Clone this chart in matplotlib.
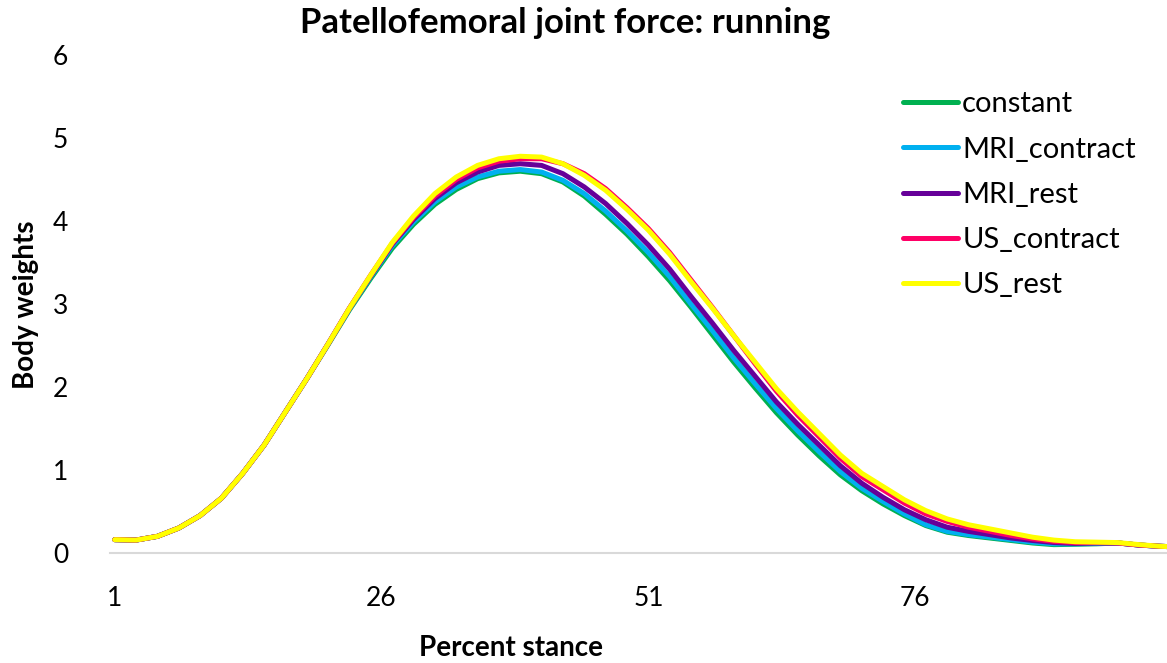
import matplotlib
matplotlib.use("Agg")
import matplotlib.pyplot as plt

plt.rcParams['font.family'] = ['Lato', 'DejaVu Sans']

# percent stance (every second point)
stance = [1, 3, 5, 7, 9, 11, 13, 15, 17, 19, 21, 23, 25, 27, 29, 31, 33, 35, 37, 39,
          41, 43, 45, 47, 49, 51, 53, 55, 57, 59, 61, 63, 65, 67, 69, 71, 73, 75, 77, 79,
          81, 83, 85, 87, 89, 91, 93, 95, 97, 99, 100]

constant = [0.16, 0.155, 0.20, 0.30, 0.45, 0.66, 0.96, 1.30, 1.70, 2.10,
            2.51, 2.93, 3.31, 3.67, 3.96, 4.20, 4.38, 4.51, 4.58, 4.60,
            4.57, 4.47, 4.30, 4.08, 3.84, 3.57, 3.28, 2.96, 2.63, 2.30,
            1.99, 1.69, 1.42, 1.17, 0.94, 0.75, 0.59, 0.45, 0.33, 0.25,
            0.21, 0.18, 0.15, 0.12, 0.10, 0.105, 0.11, 0.12, 0.095, 0.08, 0.075]
mri_contract = [0.16, 0.155, 0.20, 0.30, 0.45, 0.66, 0.96, 1.30, 1.70, 2.10,
                2.52, 2.94, 3.33, 3.70, 3.99, 4.23, 4.41, 4.53, 4.60, 4.62,
                4.59, 4.49, 4.33, 4.12, 3.88, 3.62, 3.33, 3.00, 2.68, 2.35,
                2.04, 1.74, 1.47, 1.22, 0.98, 0.78, 0.62, 0.47, 0.34, 0.26,
                0.22, 0.19, 0.16, 0.13, 0.11, 0.11, 0.115, 0.12, 0.095, 0.08, 0.075]
mri_rest = [0.16, 0.155, 0.20, 0.30, 0.45, 0.66, 0.96, 1.30, 1.70, 2.10,
            2.52, 2.95, 3.34, 3.72, 4.02, 4.27, 4.46, 4.59, 4.67, 4.69,
            4.67, 4.57, 4.41, 4.21, 3.97, 3.71, 3.42, 3.09, 2.77, 2.44,
            2.13, 1.82, 1.55, 1.30, 1.05, 0.84, 0.67, 0.52, 0.40, 0.31,
            0.26, 0.22, 0.18, 0.15, 0.125, 0.115, 0.12, 0.12, 0.095, 0.08, 0.075]
us_contract = [0.16, 0.155, 0.20, 0.30, 0.45, 0.66, 0.96, 1.30, 1.70, 2.10,
               2.52, 2.95, 3.35, 3.73, 4.04, 4.30, 4.50, 4.64, 4.72, 4.75,
               4.75, 4.69, 4.57, 4.39, 4.16, 3.91, 3.62, 3.29, 2.96, 2.62,
               2.28, 1.95, 1.66, 1.40, 1.14, 0.92, 0.76, 0.60, 0.47, 0.38,
               0.31, 0.26, 0.21, 0.17, 0.14, 0.125, 0.125, 0.12, 0.095, 0.08, 0.075]
us_rest = [0.16, 0.155, 0.20, 0.30, 0.45, 0.66, 0.96, 1.30, 1.70, 2.10,
           2.52, 2.95, 3.35, 3.74, 4.06, 4.33, 4.53, 4.67, 4.75, 4.78,
           4.77, 4.69, 4.55, 4.37, 4.14, 3.89, 3.60, 3.27, 2.95, 2.62,
           2.30, 1.98, 1.70, 1.44, 1.18, 0.96, 0.80, 0.64, 0.51, 0.41,
           0.34, 0.29, 0.24, 0.19, 0.155, 0.135, 0.13, 0.125, 0.10, 0.08, 0.075]

names = ['constant', 'MRI_contract', 'MRI_rest', 'US_contract', 'US_rest']
colors = ['#00B050', '#00B0F0', '#660099', '#FF0066', '#FFFF00']
series = [constant, mri_contract, mri_rest, us_contract, us_rest]

fig = plt.figure(figsize=(11.67, 6.63), dpi=100)
ax = fig.add_axes([0.094, 0.166, 0.906, 0.751])

for name, col, vals in zip(names, colors, series):
    ax.plot(stance, vals, color=col, lw=3.6, label=name,
            solid_capstyle='round', solid_joinstyle='round')

ax.set_xlim(0.53, 99.6)
ax.set_ylim(0, 6)
ax.set_xticks([1, 26, 51, 76])
ax.set_yticks(range(7))
ax.tick_params(length=0, labelsize=19)
ax.tick_params(axis='x', pad=24)
ax.tick_params(axis='y', pad=30)

for s in ['top', 'right', 'left']:
    ax.spines[s].set_visible(False)
ax.spines['bottom'].set_color('#D9D9D9')
ax.spines['bottom'].set_linewidth(1.5)

fig.text(0.484, 0.965, 'Patellofemoral joint force: running', ha='center', va='center',
         fontsize=25, fontweight='bold')
fig.text(0.438, 0.022, 'Percent stance', ha='center', va='center',
         fontsize=20, fontweight='bold')
fig.text(0.022, 0.54, 'Body weights', ha='center', va='center', rotation=90,
         fontsize=20, fontweight='bold')

ax.legend(loc='upper left', bbox_to_anchor=(0.75, 0.927), frameon=False, fontsize=21,
          handlelength=1.9, handletextpad=0.14, labelspacing=0.66,
          borderpad=0, borderaxespad=0)

fig.savefig('out.png', dpi=100)
